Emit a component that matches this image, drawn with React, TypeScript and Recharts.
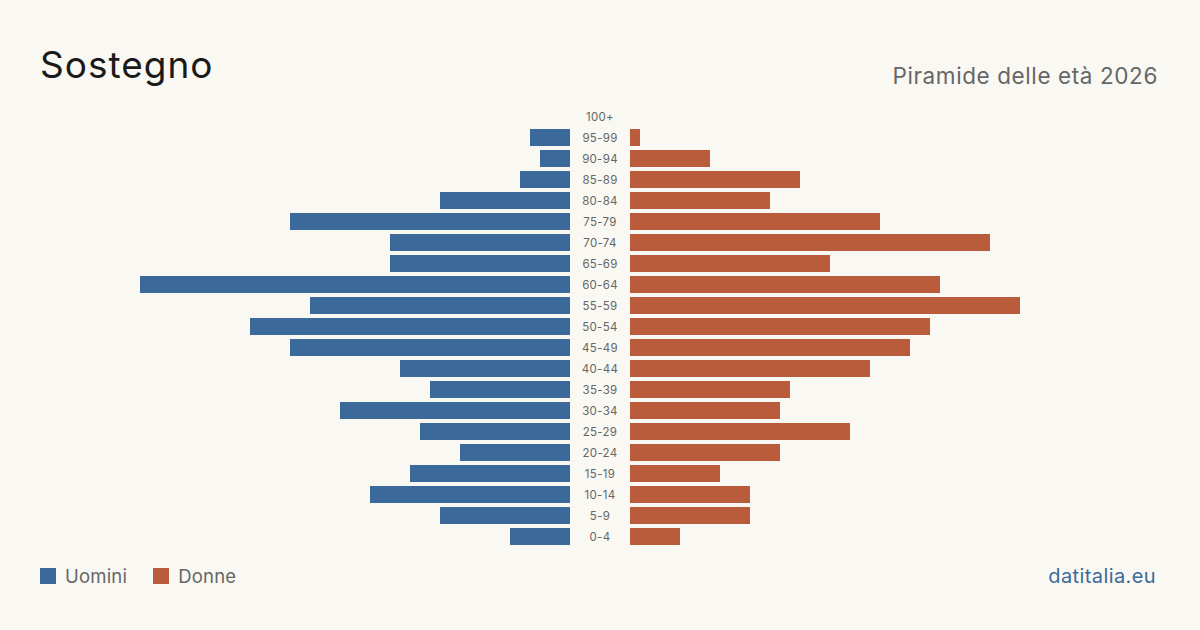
import { BarChart, Bar, XAxis, YAxis } from "recharts";

const ages = ["100+", "95-99", "90-94", "85-89", "80-84", "75-79", "70-74", "65-69", "60-64", "55-59", "50-54", "45-49", "40-44", "35-39", "30-34", "25-29", "20-24", "15-19", "10-14", "5-9", "0-4"];
const uomini = [0, 4, 3, 5, 13, 28, 18, 18, 43, 26, 32, 28, 17, 14, 23, 15, 11, 16, 20, 13, 6];
const donne = [0, 1, 8, 17, 14, 25, 36, 20, 31, 39, 30, 28, 24, 16, 15, 22, 15, 9, 12, 12, 5];

const BLUE = "#3b6a9a";
const ORANGE = "#b95c3c";
const FONT = "Inter, 'Noto Sans', sans-serif";

const data = ages.map((age, i) => ({ age, m: uomini[i], f: donne[i] }));
const maxVal = Math.max(...uomini, ...donne);

const AgeTick = (props: any) => {
  const { y, payload } = props;
  return (
    <text x={30} y={y} dy={4} textAnchor="middle" fill="#666" fontSize={11.5} letterSpacing={0.3} fontFamily={FONT}>
      {payload.value}
    </text>
  );
};

export default function App() {
  return (
    <div
      style={{
        position: "absolute",
        left: 0,
        top: 0,
        width: 1200,
        height: 630,
        background: "#f9f8f3",
        fontFamily: FONT,
        overflow: "hidden",
      }}
    >
      <div style={{ position: "absolute", left: 40, top: 42, fontSize: 37, letterSpacing: 1, color: "#1a1a1a", lineHeight: "46px" }}>
        Sostegno
      </div>
      <div style={{ position: "absolute", right: 42, top: 62, fontSize: 22.5, letterSpacing: 0.6, color: "#666", lineHeight: "28px" }}>
        Piramide delle età 2026
      </div>

      <div style={{ position: "absolute", left: 140, top: 106 }}>
        <BarChart width={430} height={441} data={data} layout="vertical" margin={{ top: 0, right: 0, bottom: 0, left: 0 }}>
          <XAxis type="number" domain={[0, maxVal]} reversed hide />
          <YAxis type="category" dataKey="age" hide />
          <Bar dataKey="m" fill={BLUE} barSize={17} isAnimationActive={false} />
        </BarChart>
      </div>

      <div style={{ position: "absolute", left: 570, top: 106 }}>
        <BarChart width={490} height={441} data={data} layout="vertical" margin={{ top: 0, right: 0, bottom: 0, left: 0 }}>
          <XAxis type="number" domain={[0, maxVal]} hide />
          <YAxis type="category" dataKey="age" width={60} axisLine={false} tickLine={false} tick={<AgeTick />} interval={0} />
          <Bar dataKey="f" fill={ORANGE} barSize={17} isAnimationActive={false} />
        </BarChart>
      </div>

      <div style={{ position: "absolute", left: 40, top: 564, display: "flex", alignItems: "center", fontSize: 18.5, letterSpacing: 0.2, color: "#666", lineHeight: "24px" }}>
        <span style={{ width: 16, height: 16, background: BLUE, display: "inline-block", marginRight: 9 }} />
        <span style={{ marginRight: 26 }}>Uomini</span>
        <span style={{ width: 16, height: 16, background: ORANGE, display: "inline-block", marginRight: 9 }} />
        <span>Donne</span>
      </div>

      <div style={{ position: "absolute", right: 44, top: 563, fontSize: 20, letterSpacing: 0.4, color: BLUE, lineHeight: "26px" }}>
        datitalia.eu
      </div>
    </div>
  );
}
